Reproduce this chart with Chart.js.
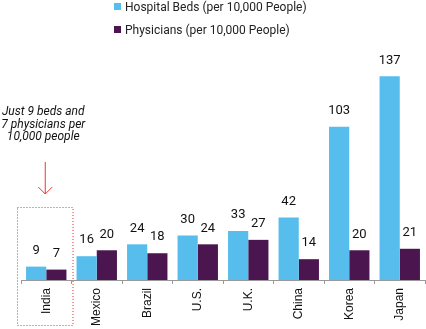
<!DOCTYPE html>
<html>
<head>
<meta charset="utf-8">
<script src="https://cdn.jsdelivr.net/npm/chart.js@4"></script>
<style>
  html, body { margin: 0; padding: 0; background: #fff; }
  #wrap { position: relative; width: 426px; height: 329px; }
  #legend { position: absolute; left: 114px; top: 0; font: 12px Roboto, sans-serif; color: #222; }
  #legend div { position: absolute; white-space: nowrap; height: 14px; line-height: 14px; }
  #legend span { display: inline-block; width: 7px; height: 7px; margin-right: 4px; vertical-align: 1px; }
</style>
</head>
<body>
<div id="wrap">
  <canvas id="c" width="426" height="329"></canvas>
  <div id="legend"></div>
</div>
<script>
let countries = ['India', 'Mexico', 'Brazil', 'U.S.', 'U.K.', 'China', 'Korea', 'Japan'];
let beds = [9, 16, 24, 30, 33, 42, 103, 137];
let physicians = [7, 20, 18, 24, 27, 14, 20, 21];
let seriesNames = ['Hospital Beds (per 10,000 People)', 'Physicians (per 10,000 People)'];
let seriesColors = ['#56BDEC', '#4B1550'];
let note = ['Just 9 beds and', '7 physicians per', '10,000 people'];

// legend, stacked like the original
let leg = document.getElementById('legend');
seriesNames.forEach((n, i) => {
    let d = document.createElement('div');
    d.style.top = (i == 0 ? 0 : 23) + 'px';
    d.innerHTML = '<span style="background:' + seriesColors[i] + '"></span>' + n;
    leg.appendChild(d);
});

let valueLabels = {
    id: 'valueLabels',
    afterDatasetsDraw(chart) {
        let ctx = chart.ctx;
        ctx.save();
        ctx.font = '13px Roboto, sans-serif';
        ctx.fillStyle = '#111';
        ctx.textAlign = 'center';
        ctx.textBaseline = 'middle';
        chart.data.datasets.forEach((ds, i) => {
            chart.getDatasetMeta(i).data.forEach((bar, j) => {
                ctx.fillText(ds.data[j], bar.x, bar.y - 16);
            });
        });
        ctx.restore();
    }
};

let callout = {
    id: 'callout',
    afterDraw(chart) {
        let ctx = chart.ctx;
        let x = chart.scales.x;
        let cx = x.getPixelForValue(0);
        let half = (x.getPixelForValue(1) - cx) / 2;
        ctx.save();
        // dotted box round India
        ctx.strokeStyle = '#E8392F';
        ctx.lineWidth = 1;
        ctx.setLineDash([1, 2]);
        ctx.strokeRect(cx - half - 3.5, 207.5, half * 2 + 5, 118);
        ctx.setLineDash([]);
        // arrow
        ctx.beginPath();
        ctx.moveTo(cx - 1, 162);
        ctx.lineTo(cx - 1, 194);
        ctx.moveTo(cx - 8, 187);
        ctx.lineTo(cx - 1, 194);
        ctx.lineTo(cx + 6, 187);
        ctx.stroke();
        // note text
        ctx.fillStyle = '#111';
        ctx.font = 'italic 12px Roboto, sans-serif';
        ctx.textAlign = 'center';
        ctx.textBaseline = 'middle';
        note.forEach((t, i) => ctx.fillText(t, cx - 3, 112 + i * 12.5));
        ctx.restore();
    }
};

new Chart(document.getElementById('c'), {
    type: 'bar',
    data: {
        labels: countries,
        datasets: [
            { label: seriesNames[0], data: beds, backgroundColor: seriesColors[0] },
            { label: seriesNames[1], data: physicians, backgroundColor: seriesColors[1] }
        ]
    },
    options: {
        responsive: false,
        animation: false,
        events: [],
        categoryPercentage: 0.8,
        barPercentage: 1,
        layout: { padding: { left: 21, right: 1, top: 57, bottom: 0 } },
        plugins: { legend: { display: false }, tooltip: { enabled: false } },
        scales: {
            x: {
                grid: { display: true, drawOnChartArea: false, offset: true, tickLength: 4, color: '#999' },
                border: { color: '#999' },
                ticks: {
                    minRotation: 90, maxRotation: 90, padding: 4,
                    color: '#111', font: { family: 'Liberation Sans, Arial', size: 12 }
                },
                afterFit: s => { s.height = 49; }
            },
            y: { display: false, min: 0, max: 150 }
        }
    },
    plugins: [valueLabels, callout]
});
</script>
</body>
</html>
